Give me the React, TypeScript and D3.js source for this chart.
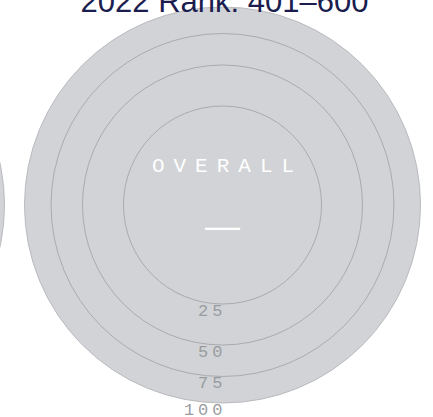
import React from "react";
import * as d3 from "d3";

const title = "2022 Rank: 401–600";
const metricLabel = "OVERALL";
const scoreText = "—";
const tickValues = [25, 50, 75, 100];
const domainMax = 100;

const W = 433;
const H = 417;
const cx = 222.5;
const cy = 205;
const R = 198;

export default function App() {
  const r = d3.scaleRadial().domain([0, domainMax]).range([0, R]);
  const mono = "'Courier New', 'Liberation Mono', monospace";
  return (
    <div style={{ position: "fixed", left: 0, top: 0 }}>
      <svg width={W} height={H} style={{ display: "block" }}>
        <rect width={W} height={H} fill="#ffffff" />
        {/* neighbouring chart circle, partly visible */}
        <circle cx={cx - 2 * R - 20} cy={cy} r={r(domainMax)} fill="#d1d3d6" stroke="#b9bbbe" strokeWidth={1} />
        <circle cx={cx} cy={cy} r={r(domainMax)} fill="#d1d3d6" stroke="#b9bbbe" strokeWidth={1} />
        {tickValues.slice(0, -1).map((t) => (
          <circle key={t} cx={cx} cy={cy} r={r(t)} fill="none" stroke="#a9abae" strokeWidth={1} />
        ))}
        {tickValues.map((t) => (
          <text
            key={"l" + t}
            x={cx + 4}
            y={cy + r(t) + 12}
            textAnchor="end"
            fontFamily={mono}
            fontSize={17}
            letterSpacing={4}
            fill="#9a9c9f"
          >
            {t}
          </text>
        ))}
        <text
          x={cx + 5}
          y={172}
          textAnchor="middle"
          fontFamily={mono}
          fontSize={21}
          letterSpacing={9}
          fill="#ffffff"
        >
          {metricLabel}
        </text>
        <text
          x={cx}
          y={238}
          textAnchor="middle"
          fontFamily="'Liberation Sans', Arial, sans-serif"
          fontSize={35}
          fill="#ffffff"
        >
          {scoreText}
        </text>
        <text
          x={cx + 2}
          y={12}
          textAnchor="middle"
          fontFamily="'Liberation Sans', Arial, sans-serif"
          fontSize={31}
          fill="#1b1d4f"
        >
          {title}
        </text>
      </svg>
    </div>
  );
}
